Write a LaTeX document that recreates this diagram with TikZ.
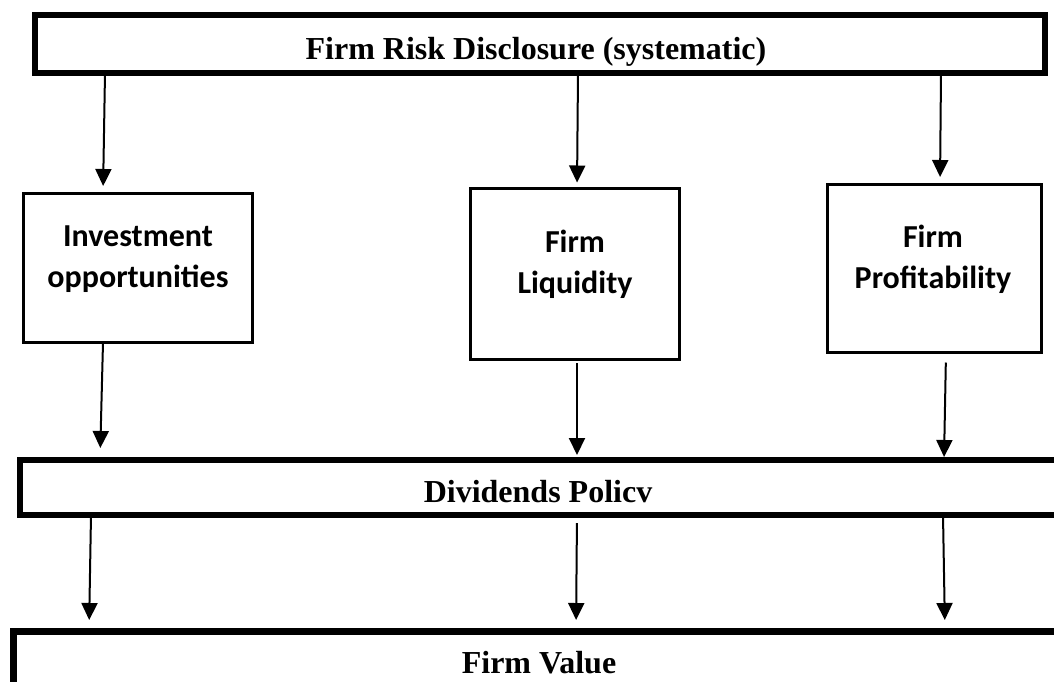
\documentclass[tikz,border=0pt]{standalone}
\usepackage{fontspec}
\setmainfont{Liberation Serif}
\newfontfamily\boxfont{Carlito}
\usetikzlibrary{arrows.meta}
\begin{document}
\begin{tikzpicture}[x=1pt,y=-1pt,
  wide/.style={draw, line width=6pt, rectangle, inner sep=0pt, outer sep=0pt},
  factor/.style={draw, line width=3pt, rectangle, inner sep=0pt, outer sep=0pt},
  headtext/.style={anchor=base, inner sep=0pt, font=\fontsize{32}{38}\selectfont\bfseries},
  factortext/.style={anchor=base, inner sep=0pt, align=center, font=\boxfont\fontsize{32}{41}\selectfont\bfseries},
  link/.style={line width=2pt, -{Triangle[length=17pt,width=16pt]}}]
\useasboundingbox (0,0) rectangle (1054,681);
\clip (0,0) rectangle (1054,681);

% banner boxes (the lower two run past the right / bottom edge)
\node[wide, minimum width=1010pt, minimum height=58pt] (frd) at (540,44) {};
\node[wide, minimum width=1060pt, minimum height=55pt] (dp) at (550,487.5) {};
\node[wide, line width=7pt, minimum width=1066.5pt, minimum height=88.5pt] (fv) at (546.75,675.75) {};

% banner captions
\node[headtext] (frdt) at (536,59) {Firm Risk Disclosure (systematic)};
\node[headtext] (dpt) at (538,502) {Dividends Policv};
\node[headtext] (fvt) at (539,673) {Firm Value};

% the three firm factors
\node[factor, minimum width=229pt, minimum height=149pt] (inv) at (138,268) {};
\node[factor, minimum width=209pt, minimum height=171pt] (liq) at (575,273.5) {};
\node[factor, minimum width=214pt, minimum height=168pt] (prof) at (934.5,268.5) {};

% captions are placed by the baseline of their second line
\node[factortext] (invt) at (138,287) {Investment\\opportunities};
\node[factortext] (liqt) at (575,293) {Firm\\Liquidity};
\node[factortext] (proft) at (933,288) {Firm\\Profitability};

% horizontal positions of the connector ends
\coordinate (a1) at (105,0);  \coordinate (b1) at (103,0);
\coordinate (a2) at (578,0);  \coordinate (b2) at (577,0);
\coordinate (a3) at (941,0);  \coordinate (b3) at (940,0);
\coordinate (a4) at (103,0);  \coordinate (b4) at (100,0);
\coordinate (a5) at (577,0);  \coordinate (b5) at (577,0);
\coordinate (a6) at (946,0);  \coordinate (b6) at (944,0);
\coordinate (a7) at (91,0);   \coordinate (b7) at (89,0);
\coordinate (a8) at (577,0);  \coordinate (b8) at (576,0);
\coordinate (a9) at (943,0);  \coordinate (b9) at (945,0);

% disclosure -> factors
\draw[link, shorten >=7.5pt] (frd.south -| a1) -- (inv.north -| b1);
\draw[link, shorten >=5.5pt] (frd.south -| a2) -- (liq.north -| b2);
\draw[link, shorten >=7.5pt] (frd.south -| a3) -- (prof.north -| b3);

% factors -> dividends policy
\draw[link, shorten <=1.5pt, shorten >=12pt] (inv.south -| a4) -- (dp.north -| b4);
\draw[link, shorten <=4pt, shorten >=5pt] (liq.south -| a5) -- (dp.north -| b5);
\draw[link, shorten <=10pt, shorten >=3pt] (prof.south -| a6) -- (dp.north -| b6);

% dividends policy -> firm value
\draw[link, shorten >=11.5pt] (dp.south -| a7) -- (fv.north -| b7);
\draw[link, shorten <=8pt, shorten >=11.5pt] (dp.south -| a8) -- (fv.north -| b8);
\draw[link, shorten >=11.5pt] (dp.south -| a9) -- (fv.north -| b9);
\end{tikzpicture}
\end{document}
